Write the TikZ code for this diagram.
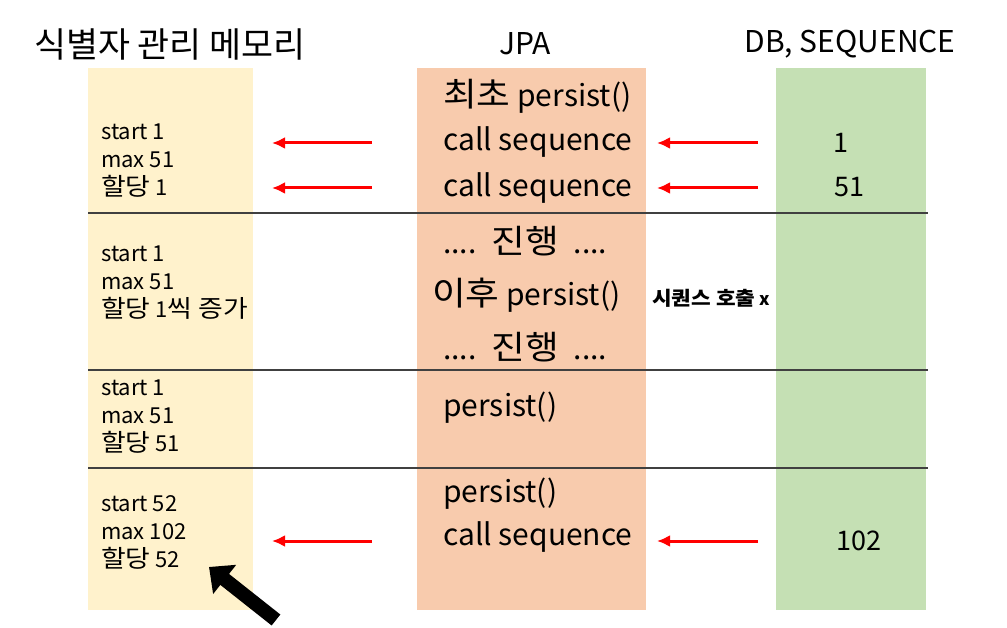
\documentclass[tikz,border=0pt]{standalone}
\usepackage{xcolor}
\usepackage{fontspec}
\setmainfont{Noto Sans CJK KR}
\newfontfamily\krfont[Scale=1.1, FakeStretch=1.11]{Noto Sans CJK KR}
\newfontfamily\krtitlefont[Scale=1.16]{Noto Sans CJK KR}
\newcommand{\kr}[1]{{\krfont #1}}
\newcommand{\krt}[1]{{\krtitlefont #1}}
\usepackage{tikz}
\usetikzlibrary{arrows.meta}
\usetikzlibrary{positioning}
\definecolor{memyellow}{HTML}{FFF2CC}
\definecolor{jpasalmon}{HTML}{F8CBAD}
\definecolor{dbgreen}{HTML}{C5E0B4}
\definecolor{sepgray}{HTML}{404040}
\tikzset{>=latex}
\tikzstyle{col} = [draw=none, inner sep = 0, minimum height = 542pt, anchor = north west]
\tikzstyle{title} = [draw=none, inner sep = 0, font=\fontsize{30}{34}\selectfont]
\tikzstyle{mem} = [draw=none, inner sep = 0, anchor = west, align = left, font=\fontsize{22}{28}\selectfont]
\tikzstyle{jpa} = [draw=none, inner sep = 0, anchor = west, font=\fontsize{30}{34}\selectfont]
\tikzstyle{db} = [draw=none, inner sep = 0, font=\fontsize{27}{30}\selectfont]
\tikzstyle{sep} = [draw = sepgray, line width = 1.5pt]
\tikzstyle{call} = [-{Latex[length=13pt, width=12pt]}, draw = red, line width = 3pt]

\begin{document}
\begin{tikzpicture}[x=1pt, y=-1pt]
\useasboundingbox [fill=white] (0,0) rectangle (1007,628);
% columns
\node [col, fill=memyellow, minimum width = 165pt] (M) at (88,68) {};
\node [col, fill=jpasalmon, minimum width = 229pt] (J) at (417,68) {};
\node [col, fill=dbgreen, minimum width = 150pt] (D) at (776,68) {};
\node [title] (tM) at (170,44) {\krt{식별자 관리 메모리}};
\node [title] (tJ) at (525,44) {JPA};
\node [title] (tD) at (850,44) {DB, SEQUENCE};
\draw [sep] (88,213) -- (928,213);
\draw [sep] (88,370) -- (928,370);
\draw [sep] (88,468) -- (928,468);
% memory
\node [mem] (m1) at (101,161) {start 1\\max 51\\\kr{할당} 1};
\node [mem] (m2) at (101,283) {start 1\\max 51\\\kr{할당} 1\kr{씩 증가}};
\node [mem] (m3) at (101,417) {start 1\\max 51\\\kr{할당} 51};
\node [mem] (m4) at (101,532) {start 52\\max 102\\\kr{할당} 52};
% jpa
\node [jpa] (j1) at (443,96) {\kr{최초} persist()};
\node [jpa] (j2) at (443,142) {call sequence};
\node [jpa] (j3) at (443,188) {call sequence};
\node [jpa] (j4) at (443,241) {....\hspace{15pt}\kr{진행}\hspace{15pt}....};
\node [jpa] (j5) at (432,295) {\kr{이후} persist()};
\node [jpa] (j6) at (443,347) {....\hspace{15pt}\kr{진행}\hspace{15pt}....};
\node [jpa] (j7) at (443,408) {persist()};
\node [jpa] (j8) at (443,494) {persist()};
\node [jpa] (j9) at (443,537) {call sequence};
\node [draw=none, inner sep = 0, anchor = west, font=\bfseries\fontsize{17.5}{20}\selectfont] (nx) at (652,298) {\kr{\bfseries 시퀀스 호출} x};
% db
\node [db] (d1) at (841,143) {1};
\node [db] (d2) at (849,187) {51};
\node [db] (d3) at (859,541) {102};
% arrows
\coordinate (a1s) at (372,143); \coordinate (a1e) at (272,143);
\coordinate (a2s) at (372,188); \coordinate (a2e) at (272,188);
\coordinate (a3s) at (372,541); \coordinate (a3e) at (272,541);
\coordinate (b1s) at (758,143); \coordinate (b1e) at (657,143);
\coordinate (b2s) at (758,188); \coordinate (b2e) at (657,188);
\coordinate (b3s) at (758,541); \coordinate (b3e) at (657,541);
\draw [call] (a1s) to (a1e);
\draw [call] (a2s) to (a2e);
\draw [call] (a3s) to (a3e);
\draw [call] (b1s) to (b1e);
\draw [call] (b2s) to (b2e);
\draw [call] (b3s) to (b3e);
\coordinate (ktail) at (276,620);
\coordinate (ktip) at (209,567);
\draw [-{Triangle[length=20pt, width=36pt]}, line width = 14pt] (ktail) to (ktip);
\end{tikzpicture}
\end{document}
